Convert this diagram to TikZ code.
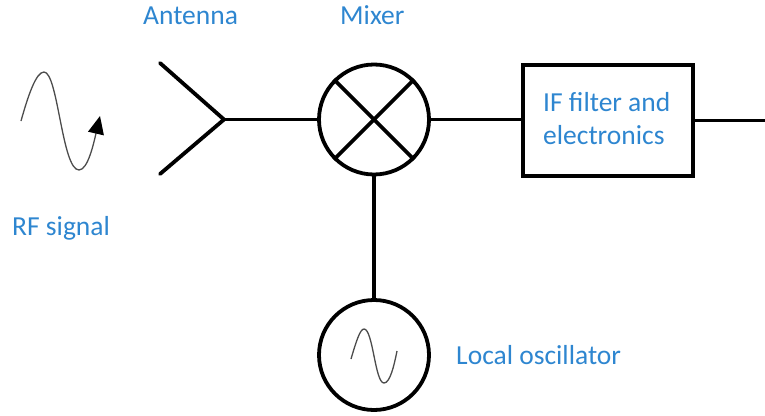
\documentclass[tikz,border=0pt]{standalone}
\usepackage{fontspec}
\setmainfont{Carlito}
\usetikzlibrary{arrows.meta}
\definecolor{lbl}{HTML}{2E86D0}
\tikzset{
  wire/.style={line width=3.8pt,black},
  thin sine/.style={line width=1.3pt,black!70},
  ring/.style={circle,draw=black,line width=3.8pt,minimum size=110pt,inner sep=0pt,fill=white},
  lab/.style={text=lbl,font=\fontsize{27.5pt}{33pt}\selectfont,inner sep=0pt,align=left}
}
\begin{document}
\begin{tikzpicture}[x=1pt,y=-1pt]
\useasboundingbox (0,0) rectangle (765,415);
\node[ring] (mix) at (374,119.5) {};
\node[ring] (lo) at (374,355) {};
\node[draw=black,line width=3.8pt,minimum width=170pt,minimum height=111pt,inner sep=0pt] (if) at (608,120.5) {};
\node[lab,anchor=base west] (iftext) at (543,111) {IF filter and};
\node[lab,anchor=base west] (iftext2) at (543,144) {electronics};
\coordinate (tip) at (224,119.5);
\coordinate (a1) at (160,63);
\coordinate (a2) at (160,174);
\coordinate (out) at (765,120.5);
\draw[wire,line cap=round] (a1) -- (tip) -- (a2);
\draw[wire] (tip) -- (mix.west);
\draw[wire] (mix.east) -- (mix.east -| if.west);
\draw[wire] (if.east) -- (out);
\draw[wire] (mix.south) -- (lo.north);
\draw[wire] (mix.45) -- (mix.225);
\draw[wire] (mix.135) -- (mix.315);
\coordinate (rs) at (21,121);
\draw[thin sine,-{Triangle[length=18pt,width=16pt,fill=black,color=black]}] (rs)
  .. controls (28,96) and (36,72) .. (44,72)
  .. controls (58,72) and (62,170) .. (79,170)
  .. controls (88,170) and (94,142) .. (100,116);
\coordinate (ls) at (351,359);
\draw[thin sine] (ls)
  .. controls (356,342) and (360,329) .. (364,329)
  .. controls (373,329) and (375,383) .. (384,383)
  .. controls (390,383) and (394,366) .. (397,351);
\node[lab,anchor=base west] (l1) at (143,24) {Antenna};
\node[lab,anchor=base west] (l2) at (340,24) {Mixer};
\node[lab,anchor=base west] (l3) at (12,235) {RF signal};
\node[lab,anchor=base west] (l4) at (456,364) {Local oscillator};
\end{tikzpicture}
\end{document}
